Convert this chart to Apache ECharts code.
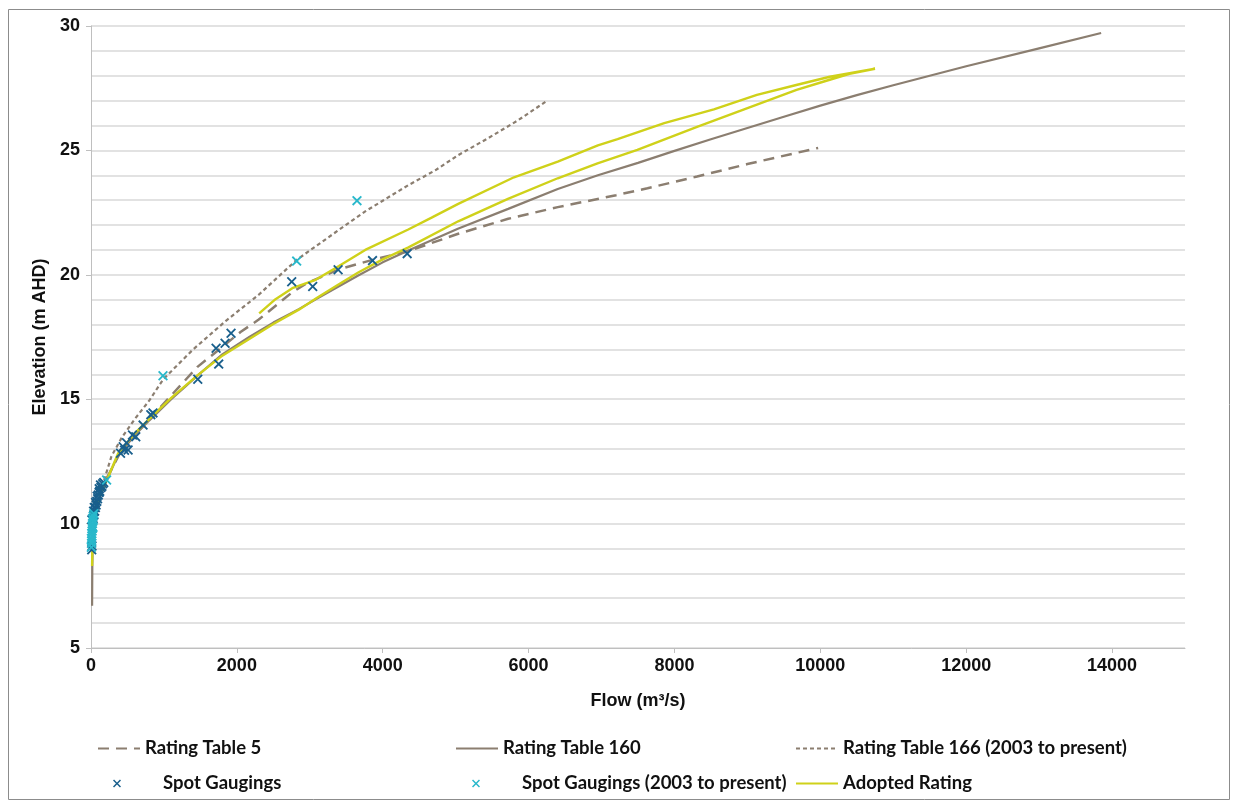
<!DOCTYPE html>
<html>
<head>
<meta charset="utf-8">
<script src="https://cdn.jsdelivr.net/npm/echarts@6/dist/echarts.min.js"></script>
<style>
  html, body { margin: 0; padding: 0; background: #ffffff; }
  #chart { width: 1233px; height: 803px; }
</style>
</head>
<body>
<div id="chart"></div>
<script>
// Axis tick labels
const flowTicks = [0, 2000, 4000, 6000, 8000, 10000, 12000, 14000];
const elevTicks = [5, 10, 15, 20, 25, 30];

// Rating curves: [flow (m³/s), elevation (m AHD)]
const rating5 = [
  [20, 9.0], [50, 10.1], [120, 11.0], [220, 11.85], [400, 12.85], [600, 13.6],
  [800, 14.2], [1100, 15.15], [1460, 16.3], [1800, 17.1], [2050, 17.7],
  [2300, 18.2], [2760, 19.3], [2950, 19.65], [3400, 20.22], [3860, 20.6],
  [4350, 20.95], [5035, 21.65], [5720, 22.25], [6400, 22.72], [7200, 23.2],
  [7630, 23.48], [8310, 23.95], [9000, 24.45], [9970, 25.1]
];

const rating160 = [
  [15, 6.7], [18, 8.3], [25, 9.3], [40, 10.0], [80, 10.7], [150, 11.3],
  [240, 11.9], [370, 12.75], [500, 13.2], [600, 13.55], [800, 14.15],
  [1100, 15.0], [1460, 15.95], [1800, 16.8], [2170, 17.5], [2500, 18.08],
  [2850, 18.62], [3100, 19.05], [3388, 19.52], [3670, 19.98], [4000, 20.5],
  [4350, 20.98], [5030, 21.85], [5720, 22.65], [6400, 23.45], [6950, 24.0],
  [7500, 24.5], [8000, 24.98], [8500, 25.45], [9000, 25.9], [9500, 26.35],
  [10000, 26.8], [10500, 27.22], [11000, 27.62], [12000, 28.38], [13000, 29.1],
  [13850, 29.72]
];

const rating166 = [
  [180, 11.75], [280, 12.7], [420, 13.45], [600, 14.2], [800, 14.95],
  [990, 15.8], [1400, 17.0], [1850, 18.15], [2300, 19.2], [2820, 20.6],
  [3300, 21.6], [3760, 22.55], [4350, 23.6], [4720, 24.2], [5030, 24.8],
  [5450, 25.5], [5850, 26.2], [6230, 26.95]
];

// Adopted rating: outgoing (lower) branch up to the tip, then the upper branch back down
const adoptedLower = [
  [15, 8.3], [18, 8.9], [25, 9.5], [40, 10.0], [85, 10.8], [160, 11.4],
  [236, 11.88], [373, 12.83], [600, 13.63], [782, 14.16], [1100, 15.05],
  [1464, 15.97], [1800, 16.75], [2170, 17.42], [2500, 18.02], [2850, 18.6],
  [3100, 19.08], [3388, 19.6], [3670, 20.1], [4000, 20.62], [4353, 21.1],
  [5035, 22.15], [5717, 23.05], [6399, 23.88], [6945, 24.48], [7491, 25.02],
  [8310, 25.95], [8992, 26.69], [9674, 27.43], [10038, 27.76], [10400, 28.08],
  [10750, 28.28]
];
const adoptedUpper = [
  [10750, 28.28], [10130, 27.96], [9670, 27.63], [9130, 27.23], [8540, 26.65],
  [7860, 26.1], [7220, 25.45], [6950, 25.2], [6400, 24.55], [5800, 23.92],
  [5035, 22.85], [4670, 22.3], [4350, 21.82], [3760, 21.0], [3400, 20.35],
  [3080, 19.8], [2760, 19.46], [2530, 19.02], [2306, 18.45]
];

// Spot gaugings: [flow, elevation]
const spotGaugings = [
  [10, 8.95], [14, 9.1], [12, 10.15], [30, 10.2], [40, 10.35], [35, 10.5],
  [50, 10.5], [45, 10.65], [60, 10.65], [70, 10.75], [62, 10.85], [80, 10.9],
  [90, 11.0], [84, 11.1], [100, 11.15], [110, 11.25], [120, 11.3], [112, 11.4],
  [135, 11.45], [150, 11.5], [130, 11.55], [160, 11.6], [175, 11.65],
  [405, 12.83], [441, 13.09], [487, 13.25], [509, 12.96], [460, 12.95],
  [569, 13.56], [614, 13.49], [714, 13.96], [820, 14.38], [850, 14.45],
  [1464, 15.8], [1715, 17.05], [1751, 16.41], [1838, 17.25], [1920, 17.65],
  [2752, 19.72], [3040, 19.53], [3388, 20.2], [3860, 20.57], [4335, 20.85]
];

const spotGaugings2003 = [
  [5, 9.05], [8, 9.2], [10, 9.3], [6, 9.4], [12, 9.5], [10, 9.6], [15, 9.7],
  [18, 9.8], [14, 9.9], [28, 9.85], [20, 10.0], [25, 10.1], [22, 10.2],
  [30, 10.3], [38, 10.4],
  [214, 11.75], [987, 15.94], [2820, 20.55], [3647, 22.98]
];

const BROWN = '#8b7e70';
const YELLOW = '#cfd11a';
const DARK_BLUE = '#195f8c';
const CYAN = '#28b8cb';
const CROSS = 'path://M0,1.3L1.3,0L5,3.7L8.7,0L10,1.3L6.3,5L10,8.7L8.7,10L5,6.3L1.3,10L0,8.7L3.7,5Z';

const legendFont = { fontFamily: 'Lato', fontWeight: 'bold', fontSize: 18.5, color: '#111' };

// line-series legend entry: line only, no point symbol
function lineLegend(name, left, top) {
  return {
    data: [name], left: left, top: top, orient: 'horizontal',
    itemWidth: 42, itemHeight: 14, itemGap: 0, padding: 0, selectedMode: false,
    itemStyle: { opacity: 0, borderWidth: 0 },
    textStyle: Object.assign({}, legendFont)
  };
}

// scatter-series legend entry: small cross, label set further right
function markerLegend(name, left, top) {
  return {
    data: [name], left: left, top: top, orient: 'horizontal',
    itemWidth: 8, itemHeight: 8, itemGap: 0, padding: 0, selectedMode: false,
    formatter: n => '{pad|}' + n,
    textStyle: Object.assign({ rich: { pad: { width: 37 } } }, legendFont)
  };
}

const chart = echarts.init(document.getElementById('chart'), null, { renderer: 'canvas' });

chart.setOption({
  animation: false,
  backgroundColor: '#ffffff',
  graphic: [{
    type: 'rect', left: 6, top: 7, silent: true,
    shape: { width: 1221, height: 790 },
    style: { fill: 'none', stroke: '#8c8c8c', lineWidth: 1 }
  }],
  grid: { left: 91, right: 48, top: 26, bottom: 155, containLabel: false },
  xAxis: {
    type: 'value', min: 0, max: 15000, interval: 2000,
    name: 'Flow (m³/s)', nameLocation: 'middle', nameGap: 44,
    nameTextStyle: { fontFamily: 'Liberation Sans', fontWeight: 'bold', fontSize: 18, color: '#111' },
    axisLine: { show: true, lineStyle: { color: '#bfbfbf', width: 1 } },
    axisTick: { show: true, length: 5, lineStyle: { color: '#bfbfbf' } },
    splitLine: { show: false },
    axisLabel: {
      margin: 9, fontFamily: 'Liberation Sans', fontWeight: 'bold', fontSize: 18, color: '#111',
      showMaxLabel: false,
      formatter: v => (flowTicks.indexOf(v) >= 0 ? String(v) : '')
    }
  },
  yAxis: {
    type: 'value', min: 5, max: 30, interval: 5,
    name: 'Elevation (m AHD)', nameLocation: 'middle', nameGap: 41, nameRotate: 90,
    nameTextStyle: { fontFamily: 'Liberation Sans', fontWeight: 'bold', fontSize: 18, color: '#111' },
    axisLine: { show: true, lineStyle: { color: '#bfbfbf', width: 1 } },
    axisTick: { show: true, length: 5, lineStyle: { color: '#bfbfbf' } },
    minorTick: { show: false, splitNumber: 5 },
    splitLine: { show: true, lineStyle: { color: '#d9d9d9', width: 1.5 } },
    minorSplitLine: { show: true, lineStyle: { color: '#d9d9d9', width: 1.5 } },
    axisLabel: {
      margin: 11, fontFamily: 'Liberation Sans', fontWeight: 'bold', fontSize: 18, color: '#111',
      formatter: v => (elevTicks.indexOf(v) >= 0 ? String(v) : '')
    }
  },
  legend: [
    lineLegend('Rating Table 5', 97, 739),
    lineLegend('Rating Table 160', 455, 739),
    lineLegend('Rating Table 166 (2003 to present)', 795, 739),
    markerLegend('Spot Gaugings', 113, 774),
    markerLegend('Spot Gaugings (2003 to present)', 472, 774),
    lineLegend('Adopted Rating', 795, 774)
  ],
  series: [
    {
      name: 'Rating Table 5', type: 'line', data: rating5, symbol: 'none', z: 2,
      lineStyle: { color: BROWN, width: 2.5, type: [11, 7] }, itemStyle: { color: BROWN }
    },
    {
      name: 'Rating Table 160', type: 'line', data: rating160, symbol: 'none', z: 2,
      lineStyle: { color: BROWN, width: 2.2, type: 'solid' }, itemStyle: { color: BROWN }
    },
    {
      name: 'Rating Table 166 (2003 to present)', type: 'line', data: rating166, symbol: 'none', z: 2,
      lineStyle: { color: BROWN, width: 2.2, type: [4, 3] }, itemStyle: { color: BROWN }
    },
    {
      name: 'Adopted Rating', type: 'line', data: adoptedLower.concat(adoptedUpper), symbol: 'none', z: 3,
      lineStyle: { color: YELLOW, width: 2.4 }, itemStyle: { color: YELLOW }
    },
    {
      name: 'Spot Gaugings', type: 'scatter', data: spotGaugings, symbol: CROSS, symbolSize: 10, z: 4,
      itemStyle: { color: DARK_BLUE, opacity: 1 }
    },
    {
      name: 'Spot Gaugings (2003 to present)', type: 'scatter', data: spotGaugings2003, symbol: CROSS, symbolSize: 10, z: 5,
      itemStyle: { color: CYAN, opacity: 1 }
    }
  ]
});
</script>
</body>
</html>
